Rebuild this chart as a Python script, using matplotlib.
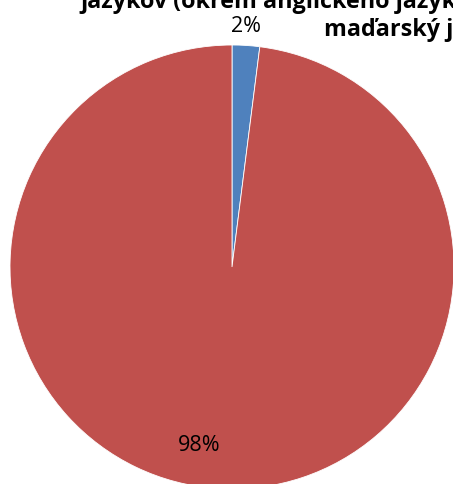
import matplotlib
matplotlib.use("Agg")
import matplotlib.pyplot as plt

# data
labels = ["2%", "98%"]
values = [2, 98]
colors = ["#4F81BD", "#C0504D"]
title_lines = ["jazykov (okrem anglického jazyka)", "maďarský jazyk"]

W, H = 453, 484
cx, cy, r = 232, 267, 222  # pie center / radius in pixels

fig = plt.figure(figsize=(W / 100, H / 100), dpi=100)
ax = fig.add_axes([0, 0, 1, 1])
ax.pie(values, colors=colors, startangle=90, counterclock=False,
       radius=1, center=(0, 0),
       wedgeprops=dict(edgecolor="white", linewidth=0.6))
ax.set_xlim(-cx / r, (W - cx) / r)
ax.set_ylim(-(H - cy) / r, cy / r)
ax.set_aspect("auto")
ax.axis("off")

font = ["Open Sans", "DejaVu Sans"]

# title (cut off by the figure edges like in the original)
fig.text(80 / W, 1 - 8 / H, title_lines[0], ha="left", va="baseline",
         fontsize=16.8, fontweight="bold", family=font)
fig.text(324 / W, 1 - 36 / H, title_lines[1], ha="left", va="baseline",
         fontsize=16.8, fontweight="bold", family=font)

# data labels
fig.text(246 / W, 1 - 32 / H, labels[0], ha="center", va="baseline",
         fontsize=15.5, family=font)
fig.text(199 / W, 1 - 451 / H, labels[1], ha="center", va="baseline",
         fontsize=15.5, family=font)

fig.savefig("out.png", dpi=100)
